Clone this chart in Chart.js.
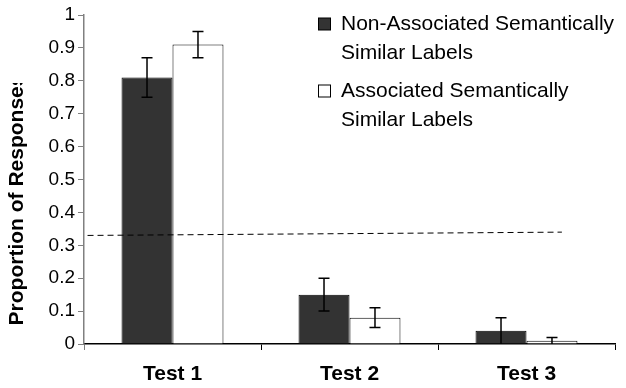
<!DOCTYPE html>
<html>
<head>
<meta charset="utf-8">
<script src="https://cdn.jsdelivr.net/npm/chart.js@4"></script>
<style>
    body { margin: 0; background: #fff; }
    #wrap { width: 626px; height: 388px; position: relative; }
</style>
</head>
<body>
<div id="wrap"><canvas id="myChart"></canvas></div>
<script>

// data
var categorias = ['Test 1', 'Test 2', 'Test 3'];
var serieNombres = [
    ['Non-Associated Semantically', 'Similar Labels'],
    ['Associated Semantically', 'Similar Labels']
];
var noAsociados = [0.81, 0.15, 0.04];
var noAsociadosErrAlto = [0.87, 0.20, 0.08];
var noAsociadosErrBajo = [0.75, 0.10, 0];
var asociados = [0.91, 0.08, 0.01];
var asociadosErrAlto = [0.95, 0.11, 0.02];
var asociadosErrBajo = [0.87, 0.05, 0];
// chance line, x in category index units (-0.5 = left edge of plot)
var lineaAzarX = [-0.48, 2.20];
var lineaAzarY = [0.33, 0.34];
var yTickLabels = ['0', '0.1', '0.2', '0.3', '0.4', '0.5', '0.6', '0.7', '0.8', '0.9', '1'];
var tituloY = 'Proportion of Responses';

var fuente = "'Liberation Sans', Arial, sans-serif";
var errores = [
    { alto: noAsociadosErrAlto, bajo: noAsociadosErrBajo },
    { alto: asociadosErrAlto, bajo: asociadosErrBajo }
];

// error bars drawn from the arrays through the y scale
var pluginErrores = {
    id: 'errores',
    afterDatasetsDraw: function (chart) {
        var ctx = chart.ctx;
        var y = chart.scales.y;
        ctx.save();
        ctx.strokeStyle = '#000';
        ctx.lineWidth = 1.5;
        for (var d = 0; d < errores.length; d++) {
            var meta = chart.getDatasetMeta(d);
            meta.data.forEach(function (bar, j) {
                var yA = y.getPixelForValue(errores[d].alto[j]);
                var yB = y.getPixelForValue(errores[d].bajo[j]);
                ctx.beginPath();
                ctx.moveTo(bar.x, yA); ctx.lineTo(bar.x, yB);
                ctx.moveTo(bar.x - 5.5, yA); ctx.lineTo(bar.x + 5.5, yA);
                if (errores[d].bajo[j] > 0) {
                    ctx.moveTo(bar.x - 5.5, yB); ctx.lineTo(bar.x + 5.5, yB);
                }
                ctx.stroke();
            });
        }
        ctx.restore();
    }
};

// dashed chance line, positions from the scales
var pluginAzar = {
    id: 'azar',
    afterDatasetsDraw: function (chart) {
        var ctx = chart.ctx;
        var x = chart.scales.x, y = chart.scales.y;
        ctx.save();
        ctx.strokeStyle = '#000';
        ctx.lineWidth = 1;
        ctx.setLineDash([6, 4]);
        ctx.beginPath();
        for (var i = 0; i < lineaAzarX.length; i++) {
            var px = x.getPixelForValue(lineaAzarX[i]);
            var py = y.getPixelForValue(lineaAzarY[i]);
            if (i === 0) ctx.moveTo(px, py); else ctx.lineTo(px, py);
        }
        ctx.stroke();
        ctx.restore();
    }
};

// legend with two-line labels, top right inside the plot
var pluginLeyenda = {
    id: 'leyenda',
    afterDraw: function (chart) {
        var ctx = chart.ctx;
        var lineasY = [[24, 53], [91, 120]];
        ctx.save();
        ctx.font = '21px ' + fuente;
        ctx.textBaseline = 'middle';
        for (var d = 0; d < serieNombres.length; d++) {
            var ds = chart.data.datasets[d];
            ctx.fillStyle = ds.backgroundColor;
            ctx.fillRect(318.5, lineasY[d][0] - 6, 12, 12);
            ctx.strokeStyle = '#000';
            ctx.lineWidth = 1;
            ctx.strokeRect(318.5, lineasY[d][0] - 6, 12, 12);
            ctx.fillStyle = '#000';
            for (var k = 0; k < serieNombres[d].length; k++) {
                ctx.fillText(serieNombres[d][k], 341, lineasY[d][k]);
            }
        }
        ctx.restore();
    }
};

// rotated y title, clipped at the top like the original
var pluginTitulo = {
    id: 'tituloY',
    afterDraw: function (chart) {
        var ctx = chart.ctx;
        ctx.save();
        ctx.beginPath();
        ctx.rect(0, 83, 60, 305);
        ctx.clip();
        ctx.translate(17, 200);
        ctx.rotate(-Math.PI / 2);
        ctx.font = 'bold 21px ' + fuente;
        ctx.textAlign = 'center';
        ctx.textBaseline = 'middle';
        ctx.fillStyle = '#000';
        ctx.fillText(tituloY, 0, 0);
        ctx.restore();
    }
};

const data = {
    labels: categorias,
    datasets: [{
        label: serieNombres[0].join(' '),
        data: noAsociados,
        backgroundColor: '#333333',
        borderColor: '#000',
        borderWidth: 1
    }, {
        label: serieNombres[1].join(' '),
        data: asociados,
        backgroundColor: '#ffffff',
        borderColor: '#000',
        borderWidth: 1
    }]
};

const config = {
    type: 'bar',
    data: data,
    options: {
        responsive: true,
        maintainAspectRatio: false,
        animation: false,
        categoryPercentage: 0.576,
        barPercentage: 1,
        layout: { padding: { top: 15, right: 11, left: 0, bottom: 0 } },
        plugins: {
            legend: { display: false },
            tooltip: { enabled: false }
        },
        scales: {
            x: {
                afterFit: function (s) { s.height = 44; },
                grid: {
                    offset: true,
                    drawOnChartArea: false,
                    tickLength: 6,
                    color: function (c) { return c.index === 0 ? '#808080' : '#000'; },
                    lineWidth: 1
                },
                border: { color: '#000', width: 1.5 },
                ticks: {
                    color: '#000',
                    padding: 12,
                    font: { family: fuente, size: 21, weight: 'bold' }
                }
            },
            y: {
                min: 0,
                max: 1,
                afterFit: function (s) { s.width = 84; },
                grid: {
                    drawOnChartArea: false,
                    tickLength: 6,
                    color: '#808080'
                },
                border: { color: '#808080', width: 1.5 },
                ticks: {
                    stepSize: 0.1,
                    color: '#000',
                    padding: 3,
                    font: { family: fuente, size: 19 },
                    callback: function (value, index) { return yTickLabels[index]; }
                }
            }
        }
    },
    plugins: [pluginErrores, pluginAzar, pluginLeyenda, pluginTitulo]
};

var myChart = new Chart(document.getElementById('myChart'), config);

</script>
</body>
</html>
